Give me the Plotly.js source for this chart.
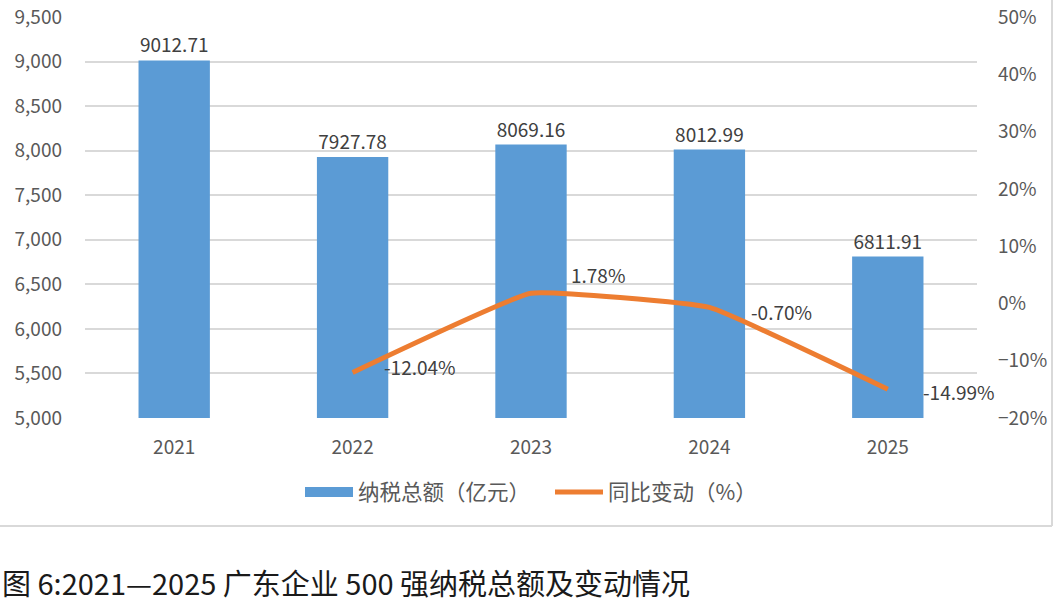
<!DOCTYPE html>
<html>
<head>
<meta charset="utf-8">
<script src="https://cdn.plot.ly/plotly-3.0.1.min.js"></script>
<style>html,body{margin:0;padding:0;background:#fff;}#chart{width:1054px;height:604px;}</style>
</head>
<body>
<div id="chart"></div>
<script>
const years = ['2021', '2022', '2023', '2024', '2025'];
const taxTotal = [9012.71, 7927.78, 8069.16, 8012.99, 6811.91];
const yoyChange = [null, -12.04, 1.78, -0.70, -14.99];
const taxName = '纳税总额（亿元）';
const yoyName = '同比变动（%）';
const caption = '图 6:2021—2025 广东企业 500 强纳税总额及变动情况';

const FONT = 'Noto Sans CJK SC, Noto Sans, sans-serif';
const L = 85, R = 977, T = 17, B = 418;
const pw = R - L, ph = B - T;
const px = v => (v - L) / pw;
const py = v => (B - v) / ph;

// label offsets (pixels) for the line's data labels
const lblShiftX = [0, 29, 38, 40, 33];
const lblShiftY = [0, 6, 19, -4, -2];

const bars = {
  type: 'bar', x: years, y: taxTotal, name: taxName, showlegend: false,
  marker: {color: '#5B9BD5'},
  text: taxTotal.map(v => v.toFixed(2)), textposition: 'outside', cliponaxis: false,
  textfont: {size: 19, color: '#404040', family: FONT},
  hoverinfo: 'skip'
};
// legend entry for the bars (wide swatch as in the reference), draws no marks
const barLegend = {
  type: 'scatter', mode: 'lines', x: years, y: years.map(() => null), name: taxName,
  line: {color: '#5B9BD5', width: 12}, hoverinfo: 'skip'
};
const line = {
  type: 'scatter', mode: 'lines', x: years, y: yoyChange, name: yoyName, yaxis: 'y2',
  line: {color: '#ED7D31', width: 5, shape: 'spline', smoothing: 0.3},
  connectgaps: false, hoverinfo: 'skip'
};

// category index i is the position of years[i] on the category axis
const lineLabels = years.map((yr, i) => yoyChange[i] === null ? null : {
  x: i, y: yoyChange[i], xref: 'x', yref: 'y2', text: yoyChange[i].toFixed(2) + '%',
  showarrow: false, xanchor: 'left', yanchor: 'middle', xshift: lblShiftX[i], yshift: lblShiftY[i],
  font: {size: 19, color: '#404040', family: FONT}
}).filter(a => a);

const layout = {
  width: 1054, height: 604,
  margin: {l: L, r: 1054 - R, t: T, b: 604 - B},
  paper_bgcolor: '#fff', plot_bgcolor: '#fff',
  font: {family: FONT, color: '#595959'},
  bargap: 0.6,
  showlegend: true,
  legend: {orientation: 'h', x: px(550), xanchor: 'center', y: py(492), yanchor: 'middle',
           font: {size: 21.5, color: '#595959', family: FONT}, itemwidth: 48, traceorder: 'normal',
           entrywidth: 187, entrywidthmode: 'pixels'},
  xaxis: {type: 'category', categoryorder: 'array', categoryarray: years, range: [-0.5, years.length - 0.5],
          showgrid: false, zeroline: false, showline: false, ticks: '',
          tickfont: {size: 19, color: '#595959'}, ticklabelstandoff: 16},
  yaxis: {range: [5000, 9500], dtick: 500, tickformat: ',d', showgrid: true, gridcolor: '#d9d9d9', gridwidth: 2,
          zeroline: false, showline: false, ticks: '', tickfont: {size: 19, color: '#595959'}, ticklabelstandoff: 22},
  yaxis2: {overlaying: 'y', side: 'right', range: [-20, 50], dtick: 10, ticksuffix: '%', showgrid: false,
           zeroline: false, showline: false, ticks: '', tickfont: {size: 19, color: '#595959'}, ticklabelstandoff: 20},
  shapes: [
    {type: 'line', xref: 'paper', yref: 'paper', x0: px(-5), x1: px(1052), y0: py(526), y1: py(526),
     line: {color: '#d9d9d9', width: 2}},
    {type: 'line', xref: 'paper', yref: 'paper', x0: px(1052), x1: px(1052), y0: py(-5), y1: py(526),
     line: {color: '#d9d9d9', width: 2}}
  ],
  annotations: lineLabels.concat([
    {text: caption, xref: 'paper', yref: 'paper', x: px(0), y: py(582), xanchor: 'left', yanchor: 'middle',
     showarrow: false, font: {size: 29, color: '#1a1a1a', family: FONT}}
  ])
};

Plotly.newPlot('chart', [bars, barLegend, line], layout, {displayModeBar: false, staticPlot: true});
</script>
</body>
</html>
